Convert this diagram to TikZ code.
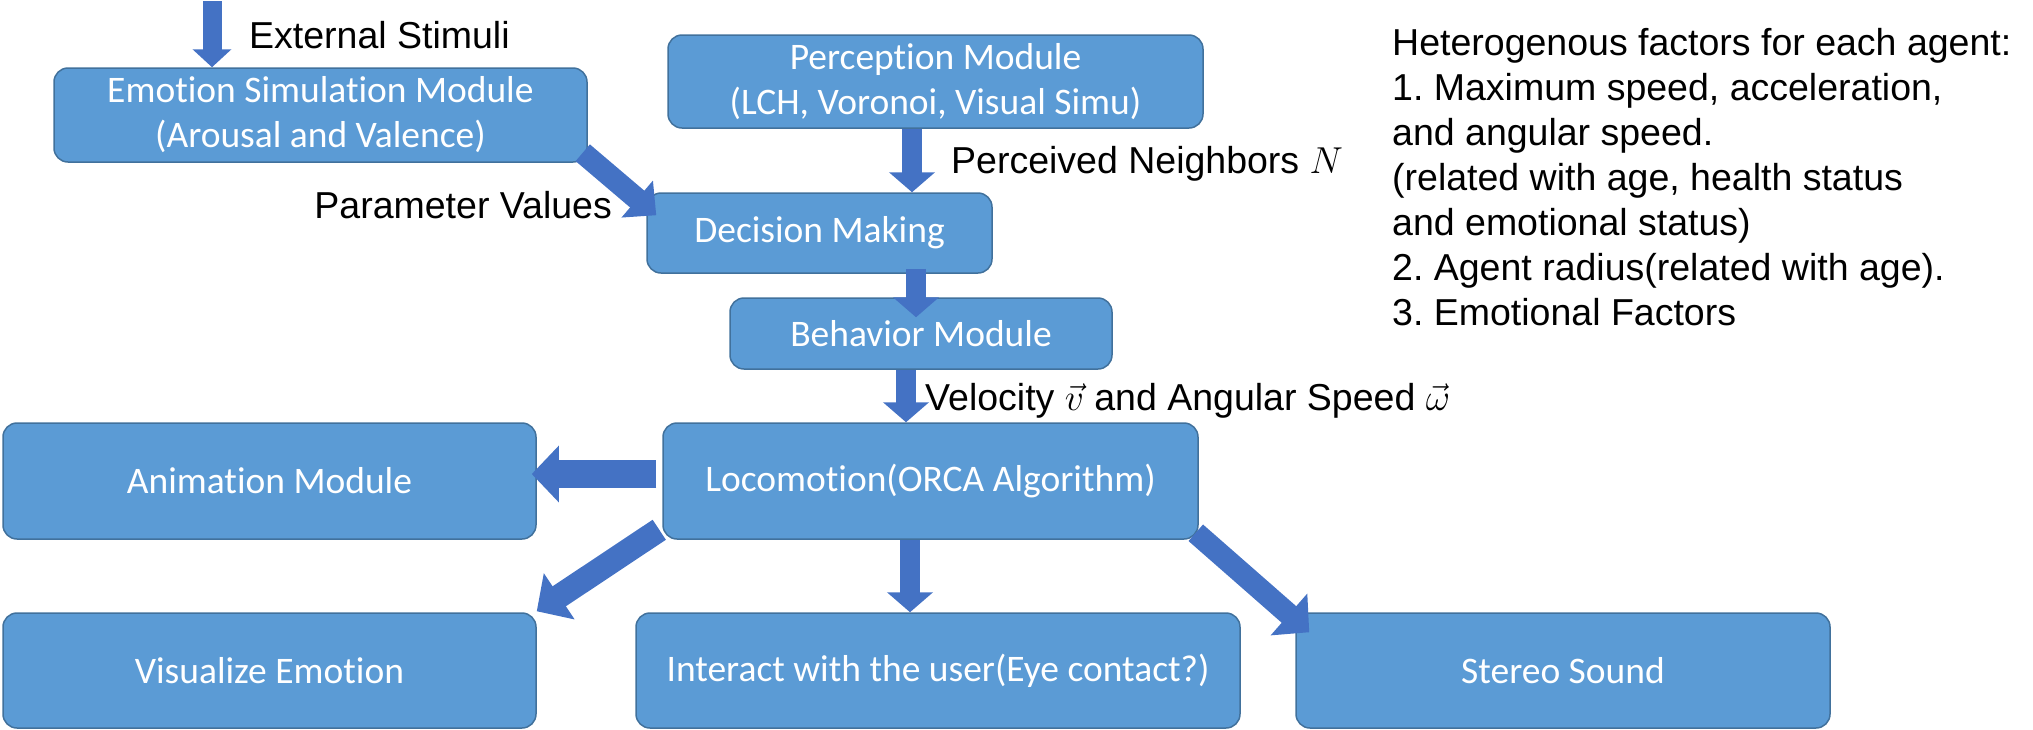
\documentclass[tikz,border=0pt]{standalone}
\usepackage{fix-cm}
\usepackage{fontspec}
\setmainfont{Liberation Sans}
\newfontfamily\boxfont{Carlito}[Ligatures=CommonOff]
\usetikzlibrary{arrows.meta,positioning}
\definecolor{boxblue}{HTML}{5B9BD5}
\definecolor{boxline}{HTML}{41719C}
\definecolor{arrowblue}{HTML}{4472C4}
\frenchspacing
\tikzset{
    module/.style={
        rectangle,
        rounded corners=14pt,
        draw=boxline,
        line width=1.5pt,
        fill=boxblue,
        text=white,
        align=center,
        inner sep=0pt,
        font=\boxfont\fontsize{37.5}{45}\selectfont,
    },
    caption/.style={
        inner sep=0pt,
        font=\fontsize{37.5}{45}\selectfont,
    },
    blockarrow/.style={
        draw=arrowblue,
        line width=20pt,
        -{Triangle[width=45pt,length=20pt]},
    },
    bigarrow/.style={
        blockarrow,
        line width=24pt,
        -{Triangle[width=54pt,length=27pt]},
    },
}

\begin{document}
\begin{tikzpicture}[x=1pt,y=-1pt]
    \useasboundingbox (0,0) rectangle (2033,729);

    \node [module, minimum width=533pt, minimum height=94pt] (emotion) at (320.5,115) {Emotion Simulation Module\\(Arousal and Valence)};
    \node [module, minimum width=535pt, minimum height=93pt] (percep) at (935.5,81.5) {Perception Module\\(LCH, Voronoi, Visual Simu)};
    \node [module, minimum width=345pt, minimum height=80pt] (decision) at (819.5,233) {Decision Making};
    \node [module, minimum width=382pt, minimum height=71pt] (behavior) at (921,333.5) {Behavior Module};
    \node [module, minimum width=535pt, minimum height=116pt] (loco) at (930.5,481) {Locomotion(ORCA Algorithm)};
    \node [module, minimum width=533pt, minimum height=116pt] (anim) at (269.5,481) {Animation Module};
    \node [module, minimum width=533pt, minimum height=115pt] (visual) at (269.5,670.5) {Visualize Emotion};
    \node [module, minimum width=604pt, minimum height=115pt] (interact) at (938,670.5) {Interact with the user(Eye contact?)};
    \node [module, minimum width=534pt, minimum height=115pt] (stereo) at (1563,670.5) {Stereo Sound};

    \coordinate (stimtop) at (212,1);
    \node [caption, anchor=base west] (stimuli) at (249,48) {External Stimuli};
    \node [caption, anchor=base east] (params) at (612,218) {Parameter Values};
    \node [caption, anchor=base west] (neighbors) at (951,173) {Perceived Neighbors $N$};
    \node [caption, anchor=base west] (velocity) at (925,410) {Velocity $\vec{v}$ and Angular Speed $\vec{\omega}$};
    \node [caption, anchor=north west, align=left] (factors) at (1392,28) {Heterogenous factors for each agent:\\1. Maximum speed, acceleration,\\and angular speed.\\(related with age, health status\\and emotional status)\\2. Agent radius(related with age).\\3. Emotional Factors};

    \draw [blockarrow, line width=19pt, -{Triangle[width=38pt,length=18pt]}] (stimtop) -- (stimtop |- emotion.north);
    \draw [bigarrow, line width=22pt, -{Triangle[width=47pt,length=25pt]}] ([shift={(-5,-10)}]emotion.south east) -- ([shift={(10,23)}]decision.north west);
    \draw [blockarrow] ([shift={(-23.5,0)}]percep.south) -- ([shift={(92.5,0)}]decision.north);
    \draw [blockarrow] ([shift={(96.5,-5)}]decision.south) -- ([shift={(-5,20)}]behavior.north);
    \draw [blockarrow] ([shift={(-15,0)}]behavior.south) -- ([shift={(-24.5,0)}]loco.north);
    \draw [bigarrow, line width=28pt, -{Triangle[width=55pt,length=27pt]}] ([shift={(-6,-7)}]loco.west) -- ([shift={(-5,-7)}]anim.east);
    \draw [bigarrow] ([shift={(-3,-10)}]loco.south west) -- ([shift={(0,-1)}]visual.north east);
    \draw [blockarrow] ([shift={(-20.5,0)}]loco.south) -- ([shift={(-28,0)}]interact.north);
    \draw [bigarrow, line width=22pt] ([shift={(-3,-7)}]loco.south east) -- ([shift={(14,20)}]stereo.north west);
\end{tikzpicture}
\end{document}
